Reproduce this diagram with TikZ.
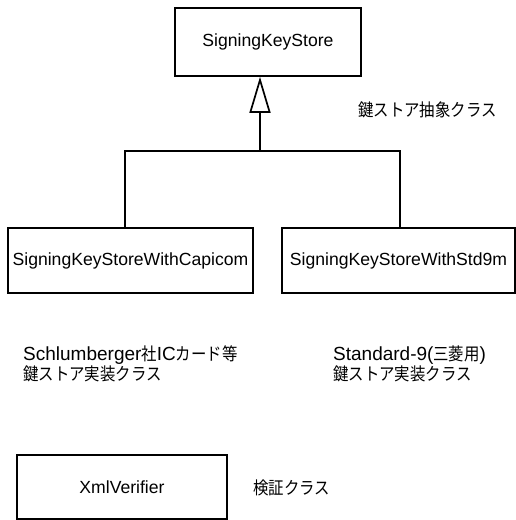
\documentclass[tikz,border=0pt]{standalone}
\usepackage{fontspec}
\setmainfont{Liberation Sans}
\newfontfamily\jp[FakeStretch=0.88]{Noto Sans CJK JP}
\newcommand\Jtxt[1]{{\jp\fontsize{17.5}{18}\selectfont #1}}
\usetikzlibrary{arrows.meta}
\tikzset{
  cls/.style={draw, line width=1.7pt, inner sep=0pt, font=\fontsize{17.6}{18}\selectfont},
  lbl/.style={inner sep=0pt, font=\fontsize{19}{18.5}\selectfont, align=left},
  conn/.style={line width=1.7pt},
  inherit/.style={conn, -{Triangle[open, length=36pt, width=21pt, line width=1.7pt]}}
}
\begin{document}
\begin{tikzpicture}[x=1pt, y=-1pt]
\useasboundingbox (0,0) rectangle (516,520);
\node[cls, minimum width=186pt, minimum height=68pt] (top) at (268,42) {SigningKeyStore};
\node[cls, minimum width=245pt, minimum height=65pt] (capi) at (130.5,260.5) {SigningKeyStoreWithCapicom};
\node[cls, minimum width=233pt, minimum height=65pt] (std) at (398.5,260.5) {SigningKeyStoreWithStd9m};
\node[cls, minimum width=210pt, minimum height=64pt] (ver) at (122,487) {XmlVerifier};
\coordinate (j) at (260,151);
\draw[conn] ([xshift=-5.5pt]capi.north) |- (j);
\draw[conn] ([xshift=1.5pt]std.north) |- (j);
\draw[inherit] (j) -- (top.south -| j);
\node[lbl, anchor=west] (abs) at (358,110) {\Jtxt{鍵ストア抽象クラス}};
\node[lbl, anchor=north west] (capilbl) at (23,346) {Schlumberger\Jtxt{社}IC\Jtxt{カード等}\\\Jtxt{鍵ストア実装クラス}};
\node[lbl, anchor=north west] (stdlbl) at (333,346) {Standard-9(\Jtxt{三菱用})\\\Jtxt{鍵ストア実装クラス}};
\node[lbl, anchor=west] (verlbl) at (253,488) {\Jtxt{検証クラス}};
\end{tikzpicture}
\end{document}
